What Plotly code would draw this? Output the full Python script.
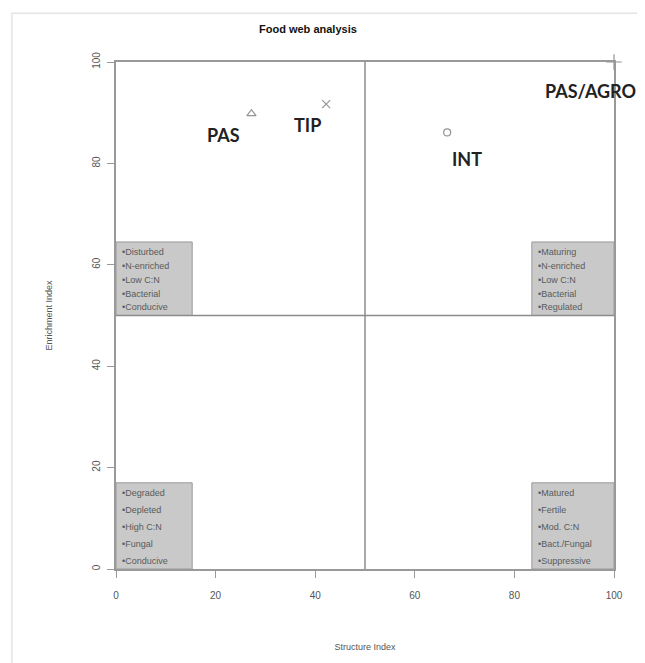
import plotly.graph_objects as go

# ---- data ----
site_names = ["PAS", "TIP", "INT", "PAS/AGRO"]
structure_index = [27.2, 42.2, 66.5, 100.0]
enrichment_index = [89.8, 91.7, 86.1, 100.0]
marker_symbols = ["triangle-up-open", "x-thin-open", "circle-open", "cross-thin-open"]
label_x = [21.5, 38.5, 70.5, 95.2]
label_y = [85.6, 87.6, 80.8, 94.3]

x_ticks = [0, 20, 40, 60, 80, 100]
y_ticks = [0, 20, 40, 60, 80, 100]

quad_boxes = [
    # x0, x1, y0, y1, text lines
    (0, 15.3, 50, 64.5, ["•Disturbed", "•N-enriched", "•Low C:N", "•Bacterial", "•Conducive"]),
    (83.5, 100, 50, 64.5, ["•Maturing", "•N-enriched", "•Low C:N", "•Bacterial", "•Regulated"]),
    (0, 15.3, 0, 17, ["•Degraded", "•Depleted", "•High C:N", "•Fungal", "•Conducive"]),
    (83.5, 100, 0, 17, ["•Matured", "•Fertile", "•Mod. C:N", "•Bact./Fungal", "•Suppressive"]),
]

fig = go.Figure()

shapes = []
annotations = []

# outer faint frame
shapes.append(dict(type="rect", xref="paper", yref="paper", x0=-0.209, x1=1.3, y0=-0.3, y1=1.096,
                   line=dict(color="#e4e4e4", width=1.5), fillcolor="rgba(0,0,0,0)", layer="below"))

for x0, x1, y0, y1, lines in quad_boxes:
    shapes.append(dict(type="rect", xref="x", yref="y", x0=x0, x1=x1, y0=y0, y1=y1,
                       line=dict(color="#9a9a9a", width=1), fillcolor="#c9c9c9", layer="below"))
    n = len(lines)
    top = y1 - 2.0
    bottom = y0 + 1.6
    step = (top - bottom) / (n - 1)
    for i, t in enumerate(lines):
        annotations.append(dict(x=x0 + 0.9, y=top - i * step, xref="x", yref="y", text=t,
                                showarrow=False, xanchor="left", yanchor="middle",
                                font=dict(family="Liberation Sans, Arial", size=9, color="#5a5a5a")))

# quadrant dividers
shapes.append(dict(type="line", xref="x", yref="y", x0=50, x1=50, y0=0, y1=100,
                   line=dict(color="#8c8c8c", width=1.5)))
shapes.append(dict(type="line", xref="x", yref="y", x0=0, x1=100, y0=50, y1=50,
                   line=dict(color="#8c8c8c", width=1.5)))

fig.add_trace(go.Scatter(
    x=structure_index, y=enrichment_index, mode="markers",
    marker=dict(symbol=marker_symbols, size=[8, 8, 7, 11], color="#666666",
                line=dict(color="#666666", width=1.2)),
    cliponaxis=False, showlegend=False, hoverinfo="skip"))

for name, lx, ly in zip(site_names, label_x, label_y):
    annotations.append(dict(x=lx, y=ly, xref="x", yref="y", text="<b>" + name + "</b>",
                            showarrow=False, xanchor="center", yanchor="middle",
                            font=dict(family="Lato, Open Sans", size=18, color="#222222")))

# title
annotations.append(dict(x=0.386, y=1.065, xref="paper", yref="paper", text="<b>Food web analysis</b>",
                        showarrow=False, xanchor="center", yanchor="middle",
                        font=dict(family="Liberation Sans, Arial", size=11, color="#111111")))

fig.update_layout(
    width=637, height=655,
    margin=dict(l=108, r=31, t=54, b=88),
    paper_bgcolor="white", plot_bgcolor="white",
    shapes=shapes, annotations=annotations,
    font=dict(family="Liberation Sans, Arial", size=9, color="#555555"),
)

fig.update_xaxes(
    range=[0, 100], tickvals=x_ticks, ticktext=[str(v) for v in x_ticks],
    showgrid=False, zeroline=False, showline=True, linecolor="#999999", linewidth=1.5,
    mirror=True, ticks="outside", ticklen=7, tickcolor="#999999", tickwidth=1,
    ticklabelstandoff=9,
    tickfont=dict(size=10, color="#555555"),
    title=dict(text="Structure Index", font=dict(size=9, color="#555555"), standoff=44),
)
fig.update_yaxes(
    range=[0, 100], tickvals=y_ticks, ticktext=[str(v) for v in y_ticks],
    showgrid=False, zeroline=False, showline=True, linecolor="#999999", linewidth=1.5,
    mirror=True, ticks="outside", ticklen=7, tickcolor="#999999", tickwidth=1,
    tickangle=-90, ticklabelstandoff=3, tickfont=dict(size=10, color="#555555"),
    title=dict(text="Enrichment Index", font=dict(size=9, color="#555555"), standoff=37),
)

fig.write_html("out.html")
